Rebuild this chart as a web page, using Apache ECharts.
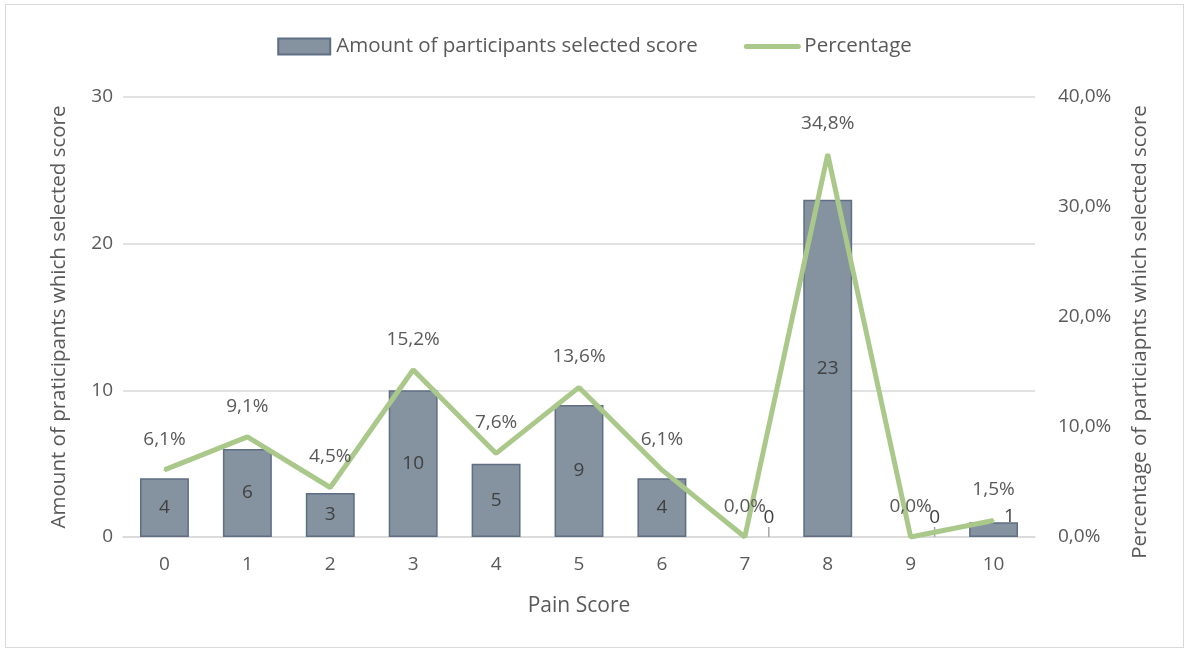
<!DOCTYPE html>
<html>
<head>
<meta charset="utf-8">
<script src="https://cdn.jsdelivr.net/npm/echarts@6/dist/echarts.min.js"></script>
<style>
  html, body { margin: 0; padding: 0; background: #fff; }
  #chart { position: absolute; left: 5px; top: 4px; width: 1179px; height: 644px; border: 1px solid #d9d9d9; box-sizing: border-box; }
</style>
</head>
<body>
<div id="chart"></div>
<script>
// pain score data
const categories = ["0", "1", "2", "3", "4", "5", "6", "7", "8", "9", "10"];
const participants = [4, 6, 3, 10, 5, 9, 4, 0, 23, 0, 1];
const percentage = [6.1, 9.1, 4.5, 15.2, 7.6, 13.6, 6.1, 0, 34.8, 0, 1.5];

const font = "'Open Sans', 'Noto Sans', sans-serif";
const grey = "#595959";
const green = "#a9c88a";

const chart = echarts.init(document.getElementById("chart"));

// zero bars: no visible bar, label pulled out with a leader line
const barData = participants.map((v) => {
  if (v === 0) {
    return {
      value: v,
      itemStyle: { borderWidth: 0, color: "transparent" },
      label: { position: "top", distance: 2 },
      labelLine: { show: true, lineStyle: { color: "#a6a6a6", width: 1.5 } }
    };
  }
  if (v < 2) {
    return { value: v, label: { position: "top", distance: 0 } };
  }
  return v;
});

chart.setOption({
  textStyle: { fontFamily: font },
  legend: {
    top: 26,
    left: "center",
    itemGap: 46,
    itemWidth: 52,
    itemHeight: 16,
    textStyle: { fontSize: 20.5, color: grey, fontFamily: font, padding: [0, 0, 0, 1] },
    data: [
      { name: "Amount of participants selected score", icon: "rect" },
      { name: "Percentage", itemStyle: { opacity: 0 }, lineStyle: { color: green, width: 5, cap: "round" } }
    ]
  },
  grid: { left: 117, right: 148, top: 92, bottom: 110 },
  xAxis: {
    type: "category",
    data: categories,
    name: "Pain Score",
    nameLocation: "middle",
    nameGap: 59,
    nameTextStyle: { fontSize: 21, color: grey, fontFamily: font },
    axisLine: { lineStyle: { color: "#d9d9d9", width: 1.5 } },
    axisTick: { show: false },
    axisLabel: { fontSize: 19, color: grey, margin: 18, fontFamily: font }
  },
  yAxis: [
    {
      type: "value",
      min: 0,
      max: 30,
      interval: 10,
      name: "Amount of praticipants which selected score",
      nameLocation: "middle",
      nameGap: 53,
      nameTextStyle: { fontSize: 20.5, color: grey, fontFamily: font },
      axisLabel: { fontSize: 19, color: grey, margin: 10, fontFamily: font },
      splitLine: { lineStyle: { color: "#d9d9d9", width: 1.5 } }
    },
    {
      type: "value",
      min: 0,
      max: 40,
      interval: 10,
      name: "Percentage of particiapnts which selected score",
      nameLocation: "middle",
      nameGap: 95,
      nameRotate: 90,
      nameTextStyle: { fontSize: 20.5, color: grey, fontFamily: font, padding: [0, 30, 0, 0] },
      axisLabel: {
        fontSize: 19,
        color: grey,
        margin: 23,
        fontFamily: font,
        formatter: (v) => v.toFixed(1).replace(".", ",") + "%"
      },
      splitLine: { show: false }
    }
  ],
  series: [
    {
      name: "Amount of participants selected score",
      type: "bar",
      data: barData,
      barWidth: "59%",
      itemStyle: { color: "#8592a0", borderColor: "#5f6e83", borderWidth: 1.5 },
      label: {
        show: true,
        position: "inside",
        fontSize: 19,
        color: "#404040",
        fontFamily: font
      },
      labelLayout: (p) => {
        const v = participants[p.dataIndex];
        if (v === 0) return { dx: 24, dy: -8 };
        if (v < 2) return { dx: 16, dy: 4 };
        return {};
      }
    },
    {
      name: "Percentage",
      type: "line",
      yAxisIndex: 1,
      data: percentage,
      symbol: "circle",
      symbolSize: 2,
      showSymbol: true,
      lineStyle: { color: green, width: 5 },
      itemStyle: { color: green },
      label: {
        show: true,
        position: "top",
        distance: 20,
        fontSize: 19,
        color: grey,
        fontFamily: font,
        formatter: (p) => p.value.toFixed(1).replace(".", ",") + "%"
      },
      z: 3
    }
  ]
});
</script>
</body>
</html>
